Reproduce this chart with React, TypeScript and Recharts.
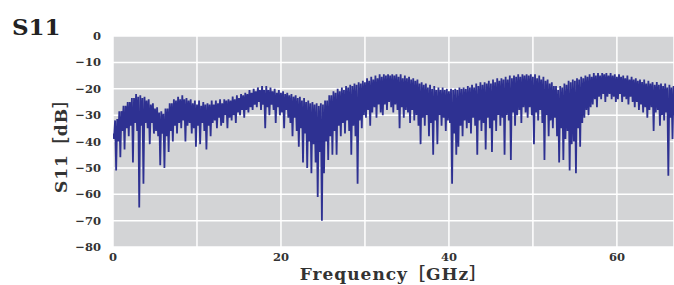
import React from 'react';
import { LineChart, Line, XAxis, YAxis, CartesianGrid, Label } from 'recharts';

// upper crest of each ripple, one every 0.25 GHz starting at 0 GHz
const peakDb = [
  -37, -32, -31.5, -28.5, -28.5, -26.5, -26.5, -25,
  -25, -23.5, -23.5, -22, -23, -22.5, -23.5, -23,
  -24.5, -24, -26, -25.5, -27.5, -27, -29, -28.5,
  -29.5, -27.5, -27.5, -25.5, -25.5, -24, -24.5, -23,
  -24, -22.5, -24, -23.5, -24.5, -24, -25.5, -24.5,
  -26, -24.5, -26.5, -25, -26, -25.5, -26, -24.5,
  -26, -24.5, -25.5, -24, -25.5, -24, -24.5, -24,
  -24.5, -23, -24, -22.5, -23.5, -22, -22.5, -21.5,
  -22, -20.5, -21.5, -20, -21, -19.5, -20.5, -19,
  -20.5, -19, -20.5, -19.5, -21, -20, -21.5, -20.5,
  -21.5, -21, -22, -21.5, -22.5, -22, -23, -22.5,
  -23.5, -23, -24.5, -23.5, -25, -24.5, -25.5, -25,
  -26, -25.5, -26.5, -25.5, -26, -24.5, -24.5, -22.5,
  -22.5, -21, -21.5, -20, -21, -19.5, -20.5, -19,
  -19.5, -18.5, -19, -18, -18.5, -17.5, -18, -17,
  -17.5, -16, -17, -15.5, -16.5, -15, -16, -14.5,
  -15.5, -14.5, -15, -14.5, -15, -14.5, -15, -14.5,
  -15.5, -14.5, -16, -15, -16, -15.5, -16.5, -16,
  -17, -16.5, -18, -17.5, -18.5, -18, -19.5, -18.5,
  -20, -19, -20.5, -19.5, -20.5, -19.5, -20.5, -20,
  -21, -20, -20.5, -20, -20.5, -19.5, -20, -19.5,
  -20, -19, -19.5, -18.5, -19.5, -18, -19, -17.5,
  -18.5, -17.5, -18, -17, -18, -16.5, -17.5, -16,
  -17, -16, -16.5, -15.5, -16.5, -15, -16, -15,
  -15.5, -14.5, -15.5, -14.5, -15, -14.5, -15, -14.5,
  -15.5, -14.5, -16, -15, -16.5, -15.5, -17, -16.5,
  -18, -17.5, -19, -19, -20.5, -19, -19.5, -18,
  -18.5, -17, -17.5, -16.5, -17, -16, -16.5, -15.5,
  -16, -15, -15.5, -14.5, -15.5, -14, -15, -14,
  -15, -14, -14.5, -14, -15, -14, -15, -14.5,
  -15.5, -14.5, -15.5, -15, -16, -15, -16.5, -15.5,
  -16.5, -16, -17, -16.5, -17.5, -16.5, -18, -17,
  -18, -17.5, -18.5, -17.5, -18.5, -18, -19, -18,
  -19.5, -18.5, -19.5, -19,
];

// trough between crests (0.125 GHz after each crest)
const dipDb = [
  -39, -51, -40, -46, -36, -43, -35, -38,
  -34, -48, -33, -36, -65, -34, -56, -33,
  -35, -41, -33, -37, -36, -38, -49, -37,
  -50, -38, -44, -36, -40, -34, -37, -33,
  -35, -32, -40, -34, -33, -37, -35, -42,
  -34, -41, -33, -36, -43, -34, -38, -33,
  -32, -35, -31, -34, -33, -30, -35, -31,
  -32, -30, -33, -29, -30, -28, -31, -28,
  -29, -27, -28, -26, -27, -25, -28, -26,
  -35, -27, -30, -26, -28, -33, -27, -30,
  -29, -35, -28, -31, -33, -38, -31, -36,
  -42, -35, -48, -37, -50, -40, -52, -41,
  -48, -61, -44, -70, -52, -40, -47, -38,
  -45, -36, -45, -34, -38, -33, -37, -32,
  -36, -45, -34, -38, -56, -32, -35, -30,
  -31, -28, -34, -29, -27, -31, -26, -29,
  -30, -26, -28, -25, -27, -29, -26, -28,
  -35, -27, -31, -28, -29, -33, -28, -32,
  -30, -34, -41, -31, -34, -30, -38, -33,
  -45, -32, -41, -30, -34, -31, -36, -32,
  -33, -56, -37, -45, -42, -34, -38, -32,
  -35, -33, -37, -31, -34, -45, -32, -36,
  -33, -43, -31, -35, -44, -32, -36, -30,
  -34, -31, -45, -30, -32, -47, -29, -34,
  -30, -28, -33, -27, -29, -31, -27, -30,
  -41, -29, -32, -28, -33, -47, -30, -38,
  -32, -35, -31, -38, -48, -35, -47, -39,
  -36, -51, -41, -40, -52, -35, -42, -33,
  -31, -28, -30, -27, -26, -24, -27, -23,
  -24, -22, -25, -23, -22, -24, -23, -25,
  -24, -22, -25, -23, -24, -26, -23, -25,
  -27, -25, -28, -26, -29, -27, -31, -28,
  -27, -36, -29, -28, -34, -30, -32, -29,
  -53, -31, -39, -30,
];

const stepGHz = 0.25;
const freqTicks = [0, 10, 20, 30, 40, 50, 60];
const freqLabels = [0, 20, 40, 60];
const dbTicks = [0, -10, -20, -30, -40, -50, -60, -70, -80];

const data: { f: number; s11: number }[] = [];
peakDb.forEach((p, i) => {
  data.push({ f: i * stepGHz, s11: p });
  data.push({ f: i * stepGHz + stepGHz / 2, s11: dipDb[i] });
});

const serif = '"DejaVu Serif", "Noto Sans CJK JP", serif';
const tickStyle = { fontFamily: serif, fontWeight: 'bold', fontSize: 11.5, fill: '#333' };
const labelStyle = { fontFamily: serif, fontWeight: 'bold', fontSize: 17, fill: '#333', letterSpacing: 1 };

const App = () => {
  return (
    <div style={{ position: 'absolute', left: 0, top: 0, width: 674, height: 285, overflow: 'hidden' }}>
      <div
        style={{
          position: 'absolute',
          left: 12,
          top: 15,
          fontFamily: serif,
          fontWeight: 'bold',
          fontSize: 23,
          lineHeight: 1,
          color: '#222',
        }}
      >
        S11
      </div>
      <LineChart width={674} height={285} data={data} margin={{ top: 36, right: 0, bottom: 0, left: 8 }}>
        <CartesianGrid fill="#d3d4d6" fillOpacity={1} stroke="#ffffff" strokeWidth={1.5} />
        <XAxis
          dataKey="f"
          type="number"
          domain={[0, 66.8]}
          allowDataOverflow
          ticks={freqTicks}
          tickFormatter={(v: number) => (freqLabels.includes(v) ? String(v) : '')}
          axisLine={false}
          tickLine={false}
          tickMargin={0}
          tick={tickStyle}
          height={38}
        >
          <Label value="Frequency［GHz］" position="insideBottom" offset={5} style={labelStyle} />
        </XAxis>
        <YAxis
          type="number"
          domain={[-80, 0]}
          ticks={dbTicks}
          tickFormatter={(v: number) => (v === 0 ? '0' : '\u2212' + Math.abs(v))}
          axisLine={false}
          tickLine={false}
          tickMargin={6}
          tick={tickStyle}
          width={105}
        >
          <Label value="S11［dB］" angle={-90} position="center" style={labelStyle} />
        </YAxis>
        <Line
          type="linear"
          dataKey="s11"
          stroke="#2e3192"
          strokeWidth={1.8}
          dot={false}
          isAnimationActive={false}
        />
      </LineChart>
    </div>
  );
};

export default App;
